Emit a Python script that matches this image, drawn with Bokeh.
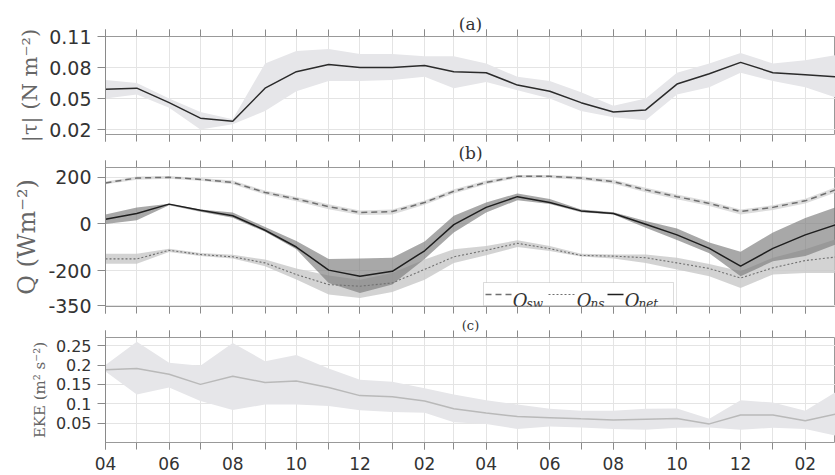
import pandas as pd
from bokeh.plotting import figure
from bokeh.layouts import column
from bokeh.models import (FixedTicker, LinearAxis, DatetimeTickFormatter, Range1d, Label,
                          BoxAnnotation, Arrow, CustomJSTickFormatter)
from bokeh.embed import file_html
from bokeh.resources import INLINE

# ---------------- data ----------------
months = ["2014-04", "2014-05", "2014-06", "2014-07", "2014-08", "2014-09", "2014-10", "2014-11",
          "2014-12", "2015-01", "2015-02", "2015-03", "2015-04", "2015-05", "2015-06", "2015-07",
          "2015-08", "2015-09", "2015-10", "2015-11", "2015-12", "2016-01", "2016-02", "2016-03"]

tau = [0.059, 0.060, 0.046, 0.031, 0.028, 0.060, 0.076, 0.083, 0.080, 0.080, 0.082, 0.076,
       0.075, 0.063, 0.057, 0.046, 0.037, 0.039, 0.064, 0.074, 0.085, 0.075, 0.073, 0.071]
tau_lo = [0.050, 0.054, 0.041, 0.020, 0.025, 0.038, 0.057, 0.067, 0.067, 0.068, 0.071, 0.060,
          0.066, 0.058, 0.050, 0.038, 0.032, 0.029, 0.054, 0.061, 0.075, 0.067, 0.061, 0.051]
tau_hi = [0.068, 0.065, 0.050, 0.037, 0.030, 0.084, 0.096, 0.098, 0.093, 0.093, 0.091, 0.091,
          0.084, 0.071, 0.067, 0.056, 0.043, 0.050, 0.075, 0.084, 0.094, 0.084, 0.087, 0.092]

q_sw = [176, 197, 200, 191, 178, 135, 107, 74, 49, 53, 92, 140,
        178, 204, 204, 197, 181, 146, 117, 88, 53, 71, 99, 146]
q_sw_lo = [170, 190, 194, 185, 170, 126, 97, 63, 38, 41, 82, 130,
           170, 197, 197, 190, 172, 136, 106, 77, 40, 60, 88, 134]
q_sw_hi = [182, 203, 206, 197, 186, 143, 116, 84, 58, 62, 101, 149,
           186, 210, 210, 204, 189, 155, 126, 97, 62, 80, 108, 157]

q_ns = [-150, -150, -113, -131, -141, -167, -217, -260, -267, -253, -195, -141,
        -113, -83, -106, -135, -138, -145, -167, -191, -232, -188, -157, -142]
q_ns_lo = [-171, -171, -120, -137, -148, -181, -238, -303, -318, -292, -239, -167,
           -134, -99, -116, -140, -148, -167, -195, -224, -275, -217, -210, -210]
q_ns_hi = [-128, -128, -106, -125, -132, -153, -191, -221, -239, -210, -152, -109,
           -95, -70, -95, -128, -131, -131, -145, -172, -203, -145, -109, -66]

q_net = [20, 45, 85, 59, 35, -27, -99, -198, -224, -203, -115, -3,
         71, 117, 92, 56, 45, -1, -47, -105, -181, -105, -47, -4]
q_net_lo = [0, 16, 80, 52, 27, -34, -109, -253, -296, -260, -150, -37,
            49, 102, 85, 50, 40, -16, -69, -126, -224, -160, -138, -88]
q_net_hi = [40, 71, 87, 62, 49, -13, -73, -150, -148, -145, -75, 35,
            92, 131, 107, 62, 50, 13, -20, -80, -119, -37, 25, 71]

eke = [0.188, 0.191, 0.176, 0.150, 0.171, 0.155, 0.159, 0.142, 0.121, 0.118, 0.107, 0.087,
       0.076, 0.067, 0.064, 0.061, 0.058, 0.060, 0.062, 0.048, 0.071, 0.071, 0.056, 0.073]
eke_lo = [0.183, 0.124, 0.142, 0.107, 0.084, 0.098, 0.098, 0.094, 0.083, 0.079, 0.077, 0.052,
          0.048, 0.035, 0.041, 0.039, 0.035, 0.033, 0.038, 0.039, 0.033, 0.038, 0.035, 0.018]
eke_hi = [0.200, 0.260, 0.206, 0.198, 0.257, 0.210, 0.226, 0.191, 0.162, 0.157, 0.140, 0.124,
          0.109, 0.098, 0.087, 0.082, 0.082, 0.087, 0.088, 0.061, 0.109, 0.103, 0.082, 0.130]

tau_ticks = [0.02, 0.05, 0.08, 0.11]
tau_labels = ["0.02", "0.05", "0.08", "0.11"]
q_ticks = [-350, -200, 0, 200]
q_labels = ["-350", "-200", "0", "200"]
eke_ticks = [0.05, 0.1, 0.15, 0.2, 0.25]
eke_labels = ["0.05", "0.1", "0.15", "0.2", "0.25"]

# ---------------- styling ----------------
SERIF = "DejaVu Serif"
SANS = "DejaVu Sans"
TICK_COL = "#8a8a8a"
GRID_COL = "#e4e4e4"
TXT_COL = "#333333"
LBL_COL = "#666666"

x = pd.to_datetime(months)
x_ms = [int(t.value // 10**6) for t in x]
xticker = FixedTicker(ticks=x_ms[::2], minor_ticks=x_ms)
x_range = Range1d(start=x[0], end=x[-1])
blank = CustomJSTickFormatter(code="return ''")


def style_xaxis(ax, labels):
    ax.ticker = xticker
    ax.axis_line_color = None
    ax.major_tick_line_color = TICK_COL
    ax.minor_tick_line_color = TICK_COL
    ax.major_tick_in = 0
    ax.minor_tick_in = 0
    ax.major_tick_out = 7
    ax.minor_tick_out = 7
    if labels:
        ax.formatter = DatetimeTickFormatter(days="%m", months="%m", years="%m")
        ax.major_label_text_font = SANS
        ax.major_label_text_font_size = "17px"
        ax.major_label_text_color = TXT_COL
        ax.major_label_standoff = 7
    else:
        ax.formatter = blank
        ax.major_label_text_font_size = "0px"
        ax.major_label_standoff = 0


def make_fig(height, top, bottom, yr, title, title_size, title_standoff, yticks, ylabels,
             ylabel, ylabel_size, ytick_size, xlabels):
    p = figure(width=835, height=height, x_axis_type="datetime", x_range=x_range,
               y_range=Range1d(*yr), output_backend="svg", toolbar_location=None,
               min_border_left=105, min_border_right=0, min_border_top=top,
               min_border_bottom=bottom)
    p.title.text = title
    p.title.align = "center"
    p.title.text_font = SERIF
    p.title.text_font_style = "normal"
    p.title.text_font_size = title_size
    p.title.text_color = TXT_COL
    p.title.standoff = title_standoff
    p.title.offset = 0
    p.outline_line_color = "#999999"
    p.outline_line_width = 1
    p.background_fill_color = "white"
    p.border_fill_color = "white"

    style_xaxis(p.xaxis[0], xlabels)
    top_ax = LinearAxis()
    style_xaxis(top_ax, False)
    p.add_layout(top_ax, "above")

    p.xgrid.grid_line_color = GRID_COL
    p.xgrid.minor_grid_line_color = GRID_COL

    ya = p.yaxis[0]
    ya.ticker = FixedTicker(ticks=yticks)
    ya.major_label_overrides = dict(zip(yticks, ylabels))
    ya.axis_line_color = TICK_COL
    ya.major_tick_line_color = TICK_COL
    ya.minor_tick_line_color = None
    ya.major_tick_in = 0
    ya.major_tick_out = 8
    ya.major_label_text_font = SANS
    ya.major_label_text_font_size = ytick_size
    ya.major_label_text_color = TXT_COL
    ya.major_label_standoff = 6
    ya.axis_label = ylabel
    ya.axis_label_text_font = SERIF
    ya.axis_label_text_font_style = "normal"
    ya.axis_label_text_font_size = ylabel_size
    ya.axis_label_text_color = LBL_COL
    ya.axis_label_standoff = 4
    p.ygrid.grid_line_color = GRID_COL
    return p


# ---------------- panel (a) ----------------
pa = make_fig(142, 36, 8, (0.0152, 0.11), "(a)", "17px", -9, tau_ticks, tau_labels,
              "|τ| (N m⁻²)", "21px", "19px", False)
pa.varea(x=x, y1=tau_lo, y2=tau_hi, fill_color="#e6e6e9")
pa.line(x=x, y=tau, line_color="#2b2b2b", line_width=1.5)

# ---------------- panel (b) ----------------
pb = make_fig(175, 25, 11, (-354, 242), "(b)", "17px", -4, q_ticks, q_labels,
              "Q (Wm⁻²)", "24px", "19px", False)
pb.varea(x=x, y1=q_sw_lo, y2=q_sw_hi, fill_color="#d4d4d4", fill_alpha=0.8)
pb.varea(x=x, y1=q_ns_lo, y2=q_ns_hi, fill_color="#c8c8c8", fill_alpha=0.8)
pb.varea(x=x, y1=q_net_lo, y2=q_net_hi, fill_color="#7a7a7a", fill_alpha=0.65)
pb.line(x=x, y=q_sw, line_color="#707070", line_width=1.5, line_dash="6 4")
pb.line(x=x, y=q_ns, line_color="#707070", line_width=1.1, line_dash="2 2")
pb.line(x=x, y=q_net, line_color="#1e1e1e", line_width=1.5)

# legend (screen units relative to the frame)
pb.add_layout(BoxAnnotation(left=378, right=568, bottom=1, top=24,
                            left_units="screen", right_units="screen",
                            bottom_units="screen", top_units="screen",
                            fill_color="white", fill_alpha=1.0,
                            line_color="#8a8a8a", line_width=1))
legend_items = [
    (380, 406, "6 4", "#707070", 1.5, 407, "sw"),
    (443, 469, "2 2", "#707070", 1.1, 471, "ns"),
    (502, 518, "solid", "#1e1e1e", 1.5, 519, "net"),
]
for xs, xe, dash, col, lw, tx, sub in legend_items:
    pb.add_layout(Arrow(x_start=xs, y_start=12, x_end=xe, y_end=12,
                        start_units="screen", end_units="screen", end=None,
                        line_color=col, line_width=lw, line_dash=dash))
    pb.add_layout(Label(x=tx, y=6, x_units="screen", y_units="screen", text="Q",
                        text_font=SERIF, text_font_style="italic", text_font_size="18px",
                        text_color=TXT_COL, text_baseline="alphabetic"))
    pb.add_layout(Label(x=tx + 14, y=3, x_units="screen", y_units="screen", text=sub,
                        text_font=SERIF, text_font_style="italic", text_font_size="12px",
                        text_color=TXT_COL, text_baseline="alphabetic"))

# ---------------- panel (c) ----------------
pc = make_fig(158, 18, 33, (0.0, 0.271), "(c)", "13px", -4, eke_ticks, eke_labels,
              "EKE (m² s⁻²)", "15px", "16px", True)
pc.varea(x=x, y1=eke_lo, y2=eke_hi, fill_color="#e6e6e9")
pc.line(x=x, y=eke, line_color="#b9b9b9", line_width=1.5)

layout = column(pa, pb, pc, spacing=0)
open("out.html", "w").write(file_html(layout, INLINE))
